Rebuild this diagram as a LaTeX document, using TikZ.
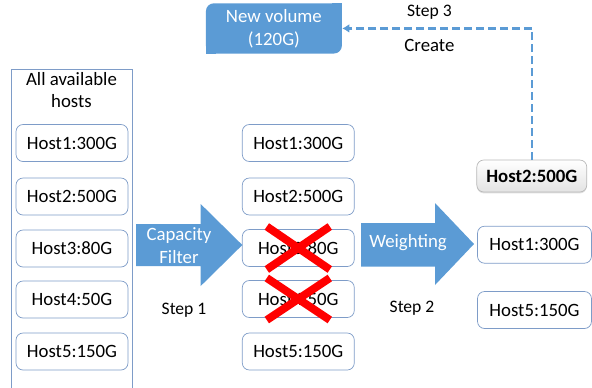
\documentclass[tikz,border=0pt]{standalone}
\usepackage{fontspec}
\setmainfont{Carlito}
\usetikzlibrary{positioning}
\usetikzlibrary{arrows.meta}
\usetikzlibrary{shadows}
\definecolor{volblue}{RGB}{91,155,213}
\definecolor{boxline}{RGB}{126,156,200}
\tikzset{
    hostbox/.style = {rectangle, rounded corners=4pt, thin, draw=boxline, fill=white, minimum width=2.24cm, minimum height=0.74cm, font=\fontsize{10.7}{13}\selectfont},
    winbox/.style = {rectangle, rounded corners=4pt, thin, draw=gray!55, top color=white, bottom color=gray!22, minimum width=2.2cm, minimum height=0.64cm, font=\fontsize{10.7}{13}\selectfont\bfseries, drop shadow={shadow xshift=0pt, shadow yshift=-0.8pt, opacity=0.25}},
    volbox/.style = {rectangle, rounded corners=4.5pt, fill=volblue, text=white, align=center, minimum width=2.72cm, minimum height=0.93cm, font=\fontsize{10.7}{13}\selectfont},
    plaintext/.style = {align=center, text=black, font=\fontsize{10.7}{12}\selectfont},
    arrowtext/.style = {align=center, text=white, font=\fontsize{10.7}{13}\selectfont},
    steptext/.style = {text=black, font=\fontsize{10}{12}\selectfont},
    bigarrow/.style = {fill=volblue},
    crossline/.style = {red, line width=4.5pt},
    dasharrow/.style = {-{Latex[length=4pt,width=5pt]}, volblue, line width=1.4pt, dash pattern=on 4.5pt off 2.3pt}
}
\begin{document}
\begin{tikzpicture}[x=0.02cm, y=-0.02cm]
\useasboundingbox (0,0) rectangle (592,387);
%
% all hosts frame
\draw[boxline, thin] (11,395) -- (11,69) -- (132,69) -- (132,395);
\node[plaintext] at (71.5,90) (all) {All available\\hosts};
%
\node[hostbox] at (72,143) (a1) {Host1:300G};
\node[hostbox] at (72,196.5) (a2) {Host2:500G};
\node[hostbox] at (72,248.5) (a3) {Host3:80G};
\node[hostbox] at (72,299.5) (a4) {Host4:50G};
\node[hostbox] at (72,351.5) (a5) {Host5:150G};
%
\node[hostbox] at (298.3,143) (b1) {Host1:300G};
\node[hostbox] at (298.3,196.5) (b2) {Host2:500G};
\node[hostbox] at (298.3,248) (b3) {Host3:80G};
\node[hostbox] at (298.3,299) (b4) {Host4:50G};
\node[hostbox] at (298.3,351.5) (b5) {Host5:150G};
%
\node[winbox] at (531.8,176) (c2) {Host2:500G};
\node[hostbox, minimum width=2.28cm] at (534.5,244.7) (c1) {Host1:300G};
\node[hostbox, minimum width=2.28cm] at (534.5,310) (c5) {Host5:150G};
%
% new volume, two sharp corners
\node[volbox] at (273.9,28.4) (nv) {New volume\\(120G)};
\fill[volblue] (nv.south west) rectangle ([xshift=6pt,yshift=6pt]nv.south west);
\fill[volblue] (nv.north east) rectangle ([xshift=-6pt,yshift=-6pt]nv.north east);
%
% block arrows
\fill[bigarrow] (136,224) -- (200.7,224) -- (200.7,204) -- (242.3,245) -- (200.7,286) -- (200.7,266) -- (136,266) -- cycle;
\fill[bigarrow] (361,223) -- (435,223) -- (435,203) -- (474,244) -- (435,285) -- (435,266.5) -- (361,266.5) -- cycle;
\node[arrowtext] at (179,245.5) (cf) {Capacity\\Filter};
\node[arrowtext] at (408,243) (wt) {Weighting};
\node[steptext] at (184,310) (s1) {Step 1};
\node[steptext] at (412,308) (s2) {Step 2};
%
% filtered out
\draw[crossline] ([xshift=-0.63cm,yshift=0.43cm]b3.center) -- ([xshift=0.63cm,yshift=-0.43cm]b3.center);
\draw[crossline] ([xshift=-0.63cm,yshift=-0.43cm]b3.center) -- ([xshift=0.63cm,yshift=0.43cm]b3.center);
\draw[crossline] ([xshift=-0.63cm,yshift=0.42cm]b4.center) -- ([xshift=0.63cm,yshift=-0.42cm]b4.center);
\draw[crossline] ([xshift=-0.63cm,yshift=-0.42cm]b4.center) -- ([xshift=0.63cm,yshift=0.42cm]b4.center);
%
\draw[dasharrow] (c2.north) |- (nv.east)
    node[steptext, pos=0.77, above=1pt] {Step 3}
    node[plaintext, pos=0.77, below=2pt] {Create};
\end{tikzpicture}
\end{document}
